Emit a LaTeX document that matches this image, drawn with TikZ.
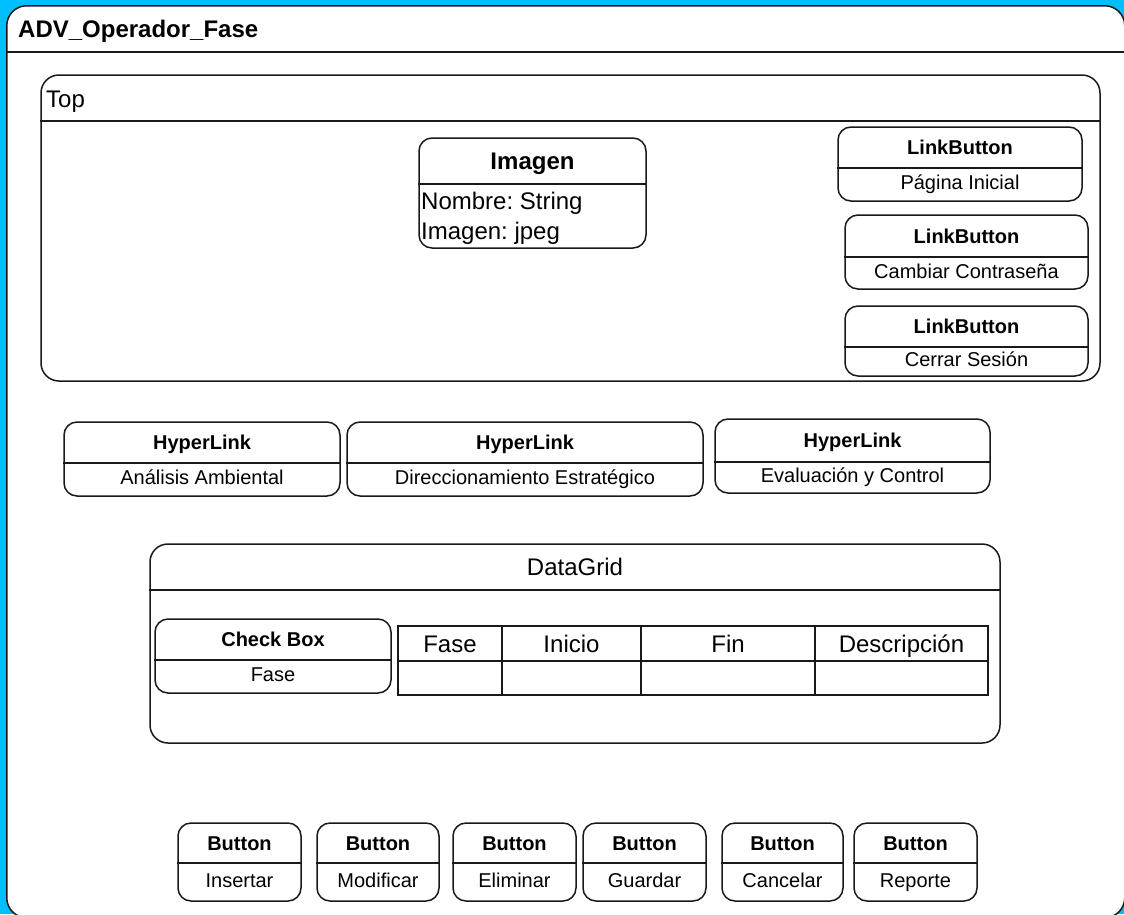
\documentclass[tikz,border=0pt]{standalone}
\usepackage{fontspec}
\setmainfont{Liberation Sans}
\frenchspacing

\newcommand{\UIbig}{\fontsize{24}{28}\selectfont}
\newcommand{\UIsmall}{\fontsize{20}{24}\selectfont}

% two-part control: name, x1, y1, x2, y2, ysep, header, caption
\newcommand{\UIpart}[8]{%
  \node[ctlbox, minimum width={(#4-#2)*1pt}, minimum height={(#5-#3)*1pt}]
    (#1) at ({(#2+#4)/2},{(#3+#5)/2}) {};
  \coordinate (#1-sep) at (#2,#6);
  \draw[ctlline] (#1.west |- #1-sep) -- (#1.east |- #1-sep);
  \node[ctlhead] (#1-head) at ({(#2+#4)/2},{(#3+#6)/2}) {#7};
  \node[ctltext] (#1-text) at ({(#2+#4)/2},{(#6+#5)/2-2}) {#8};%
}

\begin{document}
\begin{tikzpicture}[x=1pt, y=-1pt]

  \definecolor{UIblue}{HTML}{00BFFF}
  \definecolor{UIline}{gray}{0.10}

  \tikzset{
    ctlbox/.style={draw=UIline, line width=1.5pt, fill=white, rounded corners=13pt, inner sep=0pt},
    ctlline/.style={draw=UIline, line width=1.5pt},
    smalltxt/.style={inner sep=0pt, text height=14.3pt, text depth=0pt},
    bigtxt/.style={inner sep=0pt, text height=17.2pt, text depth=0pt},
    ctlhead/.style={smalltxt, font=\UIsmall\bfseries},
    ctltext/.style={smalltxt, font=\UIsmall},
    bigtext/.style={bigtxt, font=\UIbig},
    gridcell/.style={draw=UIline, line width=1.5pt, inner sep=0pt}
  }

  % ---- page and background ----
  \useasboundingbox (0,0) rectangle (1124,914);
  \fill[UIblue] (0,0) rectangle (1124,914);
  \clip (0,0) rectangle (1124,914);

  % ---- window ----
  \node[ctlbox, rounded corners=20pt, anchor=north west, minimum width=1118pt, minimum height=912pt]
    (win) at (6,5) {};
  \coordinate (win-sep) at (6,52);
  \draw[ctlline] (win.west |- win-sep) -- (win.east |- win-sep);
  \node[bigtext, font=\UIbig\bfseries, anchor=west] (win-title) at (18,29) {ADV\_Operador\_Fase};

  % ---- top panel ----
  \node[ctlbox, rounded corners=18pt, minimum width=1059pt, minimum height=306pt]
    (top) at (570.5,228) {};
  \coordinate (top-sep) at (41,121);
  \draw[ctlline] (top.west |- top-sep) -- (top.east |- top-sep);
  \node[bigtext, anchor=west] (top-title) at (46,99) {Top};

  % image
  \node[ctlbox, minimum width=227pt, minimum height=110pt] (img) at (532.5,193) {};
  \coordinate (img-sep) at (419,184);
  \draw[ctlline] (img.west |- img-sep) -- (img.east |- img-sep);
  \node[bigtext, font=\UIbig\bfseries] (img-title) at (532.5,161) {Imagen};
  \node[bigtext, anchor=west] (img-name) at (421,201) {Nombre: String};
  \node[bigtext, anchor=west] (img-type) at (421,231) {Imagen: jpeg};

  % link buttons
  \UIpart{lb1}{838}{127}{1082}{201}{168}{LinkButton}{Página Inicial}
  \UIpart{lb2}{845}{215}{1088}{289}{257}{LinkButton}{Cambiar Contraseña}
  \UIpart{lb3}{845}{306}{1088}{376}{347}{LinkButton}{Cerrar Sesión}

  % ---- hyperlinks ----
  \UIpart{hl1}{64}{422}{340}{496}{463}{HyperLink}{Análisis Ambiental}
  \UIpart{hl2}{347}{422}{703}{496}{463}{HyperLink}{Direccionamiento Estratégico}
  \UIpart{hl3}{715}{419}{990}{493}{462}{HyperLink}{Evaluación y Control}

  % ---- data grid ----
  \node[ctlbox, rounded corners=18pt, minimum width=850pt, minimum height=199pt]
    (grid) at (575,643.5) {};
  \coordinate (grid-sep) at (150,590);
  \draw[ctlline] (grid.west |- grid-sep) -- (grid.east |- grid-sep);
  \node[bigtext] (grid-title) at (575,567) {DataGrid};

  \UIpart{chk}{155}{619}{391}{693}{660}{Check Box}{Fase}

  \foreach \col/\xa/\xb/\head in {c1/398/502/Fase, c2/502/641/Inicio, c3/641/815/Fin, c4/815/988/Descripción}{
    \node[gridcell, minimum width={(\xb-\xa)*1pt}, minimum height=35pt] (\col-h) at ({(\xa+\xb)/2},643.5) {};
    \node[bigtext] (\col-t) at (\col-h) {\head};
    \node[gridcell, minimum width={(\xb-\xa)*1pt}, minimum height=34pt] (\col-r) at ({(\xa+\xb)/2},678) {};
  }

  % ---- buttons ----
  \foreach \name/\xa/\xb/\cap in {b1/178/301/Insertar, b2/317/439/Modificar, b3/453/576/Eliminar,
                                  b4/583/706/Guardar, b5/722/843/Cancelar, b6/854/977/Reporte}{
    \UIpart{\name}{\xa}{823}{\xb}{901}{863}{Button}{\cap}
  }

\end{tikzpicture}
\end{document}
